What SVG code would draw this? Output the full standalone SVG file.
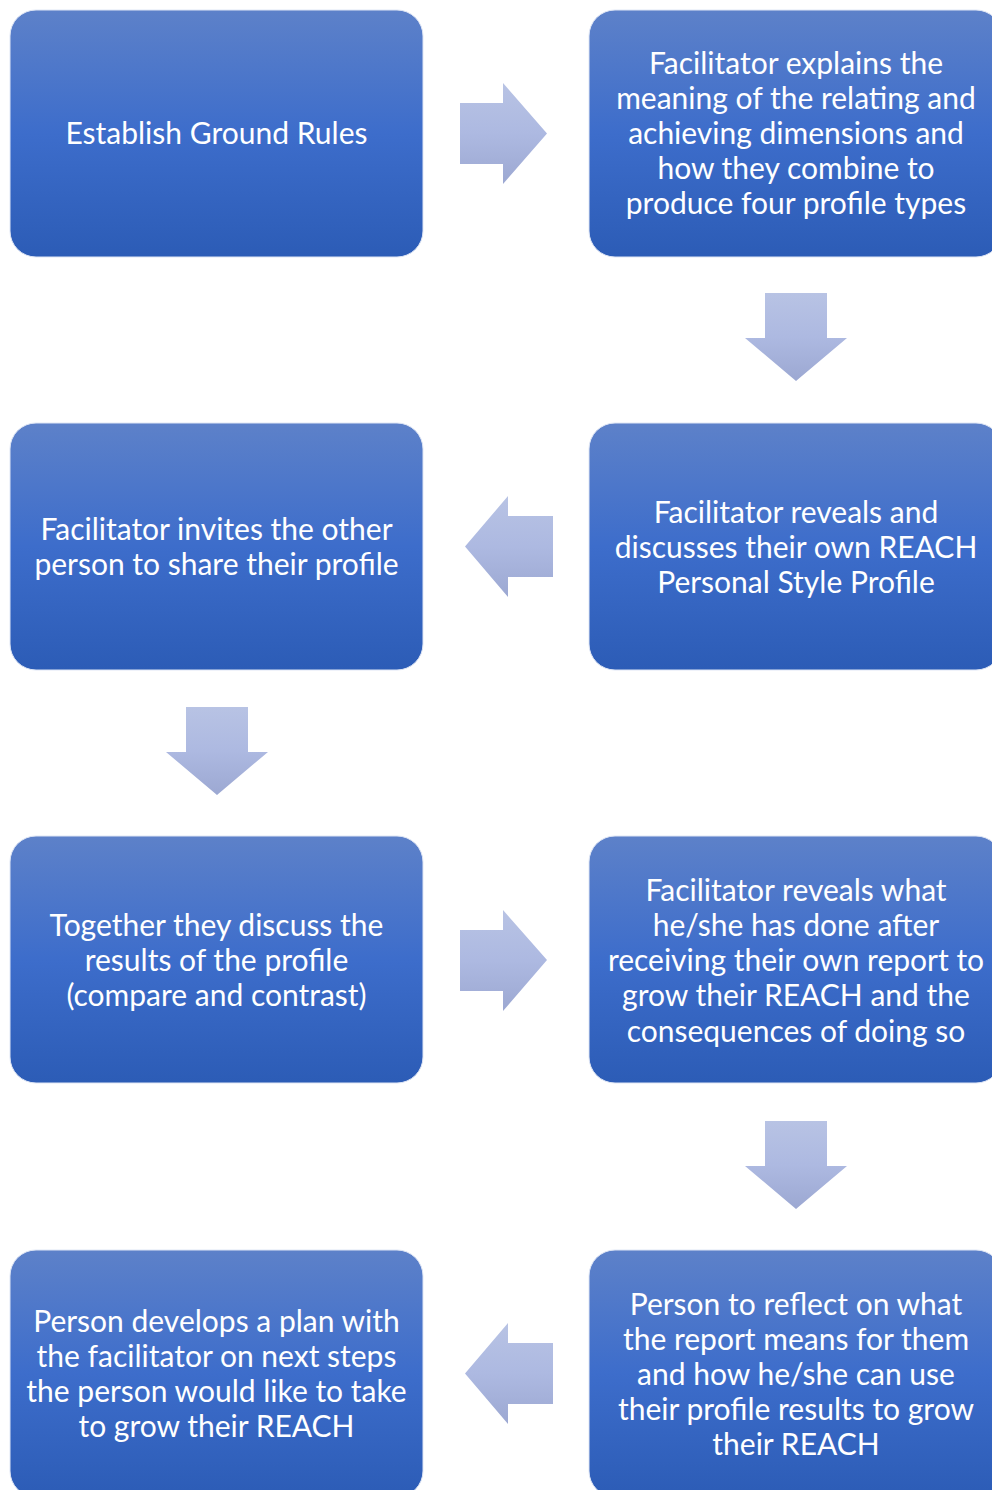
<svg xmlns="http://www.w3.org/2000/svg" width="992" height="1490" viewBox="0 0 992 1490">
<defs>
<linearGradient id="gBox" x1="0" y1="0" x2="0" y2="1">
<stop offset="0" stop-color="#5d81c9"/>
<stop offset="0.5" stop-color="#3d6dcb"/>
<stop offset="1" stop-color="#2c5cb6"/>
</linearGradient>
<linearGradient id="gArr" x1="0" y1="0" x2="0" y2="1">
<stop offset="0" stop-color="#b8c3e4"/>
<stop offset="0.5" stop-color="#adb9e1"/>
<stop offset="1" stop-color="#9ca8d2"/>
</linearGradient>
<style>
.box{fill:url(#gBox);stroke:#dfe6f5;stroke-width:1}
.arr{fill:url(#gArr)}
.t{font-family:Lato,"Open Sans","Liberation Sans",sans-serif;font-size:30px;fill:#ffffff;text-anchor:middle}
</style>
</defs>
<rect width="992" height="1490" fill="#ffffff"/>
<g id="connectors">
<path class="arr" d="M460,103 H503 V83 L547,133.5 L503,184 V164 H460 Z"/>
<path class="arr" d="M765,293 H827 V338 H847 L796,381 L745,338 H765 Z"/>
<path class="arr" d="M553,516 H508 V496 L465,546.5 L508,597 V577 H553 Z"/>
<path class="arr" d="M186,707 H248 V752 H268 L217,795 L166,752 H186 Z"/>
<path class="arr" d="M460,930 H503 V910 L547,960 L503,1011 V991 H460 Z"/>
<path class="arr" d="M765,1121 H827 V1166 H847 L796,1209 L745,1166 H765 Z"/>
<path class="arr" d="M553,1343 H508 V1323 L465,1373.5 L508,1424 V1404 H553 Z"/>
</g>
<g id="n1">
<rect class="box" x="10" y="10" width="413" height="247" rx="26"/>
<text class="t" x="216.5" y="144">Establish Ground Rules</text>
</g>
<g id="n2">
<rect class="box" x="589" y="10" width="413" height="247" rx="26"/>
<text class="t" x="796" y="74">Facilitator explains the</text>
<text class="t" x="796" y="109">meaning of the relating and</text>
<text class="t" x="796" y="144">achieving dimensions and</text>
<text class="t" x="796" y="179">how they combine to</text>
<text class="t" x="796" y="214">produce four profile types</text>
</g>
<g id="n3">
<rect class="box" x="589" y="423" width="413" height="247" rx="26"/>
<text class="t" x="796" y="523">Facilitator reveals and</text>
<text class="t" x="796" y="558">discusses their own REACH</text>
<text class="t" x="796" y="593">Personal Style Profile</text>
</g>
<g id="n4">
<rect class="box" x="10" y="423" width="413" height="247" rx="26"/>
<text class="t" x="216.5" y="540">Facilitator invites the other</text>
<text class="t" x="216.5" y="575">person to share their profile</text>
</g>
<g id="n5">
<rect class="box" x="10" y="836" width="413" height="247" rx="26"/>
<text class="t" x="216.5" y="936">Together they discuss the</text>
<text class="t" x="216.5" y="971">results of the profile</text>
<text class="t" x="216.5" y="1006">(compare and contrast)</text>
</g>
<g id="n6">
<rect class="box" x="589" y="836" width="413" height="247" rx="26"/>
<text class="t" x="796" y="901">Facilitator reveals what</text>
<text class="t" x="796" y="936">he/she has done after</text>
<text class="t" x="796" y="971">receiving their own report to</text>
<text class="t" x="796" y="1006">grow their REACH and the</text>
<text class="t" x="796" y="1042">consequences of doing so</text>
</g>
<g id="n7">
<rect class="box" x="589" y="1250" width="413" height="247" rx="26"/>
<text class="t" x="796" y="1315">Person to reflect on what</text>
<text class="t" x="796" y="1350">the report means for them</text>
<text class="t" x="796" y="1385">and how he/she can use</text>
<text class="t" x="796" y="1420">their profile results to grow</text>
<text class="t" x="796" y="1455">their REACH</text>
</g>
<g id="n8">
<rect class="box" x="10" y="1250" width="413" height="247" rx="26"/>
<text class="t" x="216.5" y="1332">Person develops a plan with</text>
<text class="t" x="216.5" y="1367">the facilitator on next steps</text>
<text class="t" x="216.5" y="1402">the person would like to take</text>
<text class="t" x="216.5" y="1437">to grow their REACH</text>
</g>
</svg>
